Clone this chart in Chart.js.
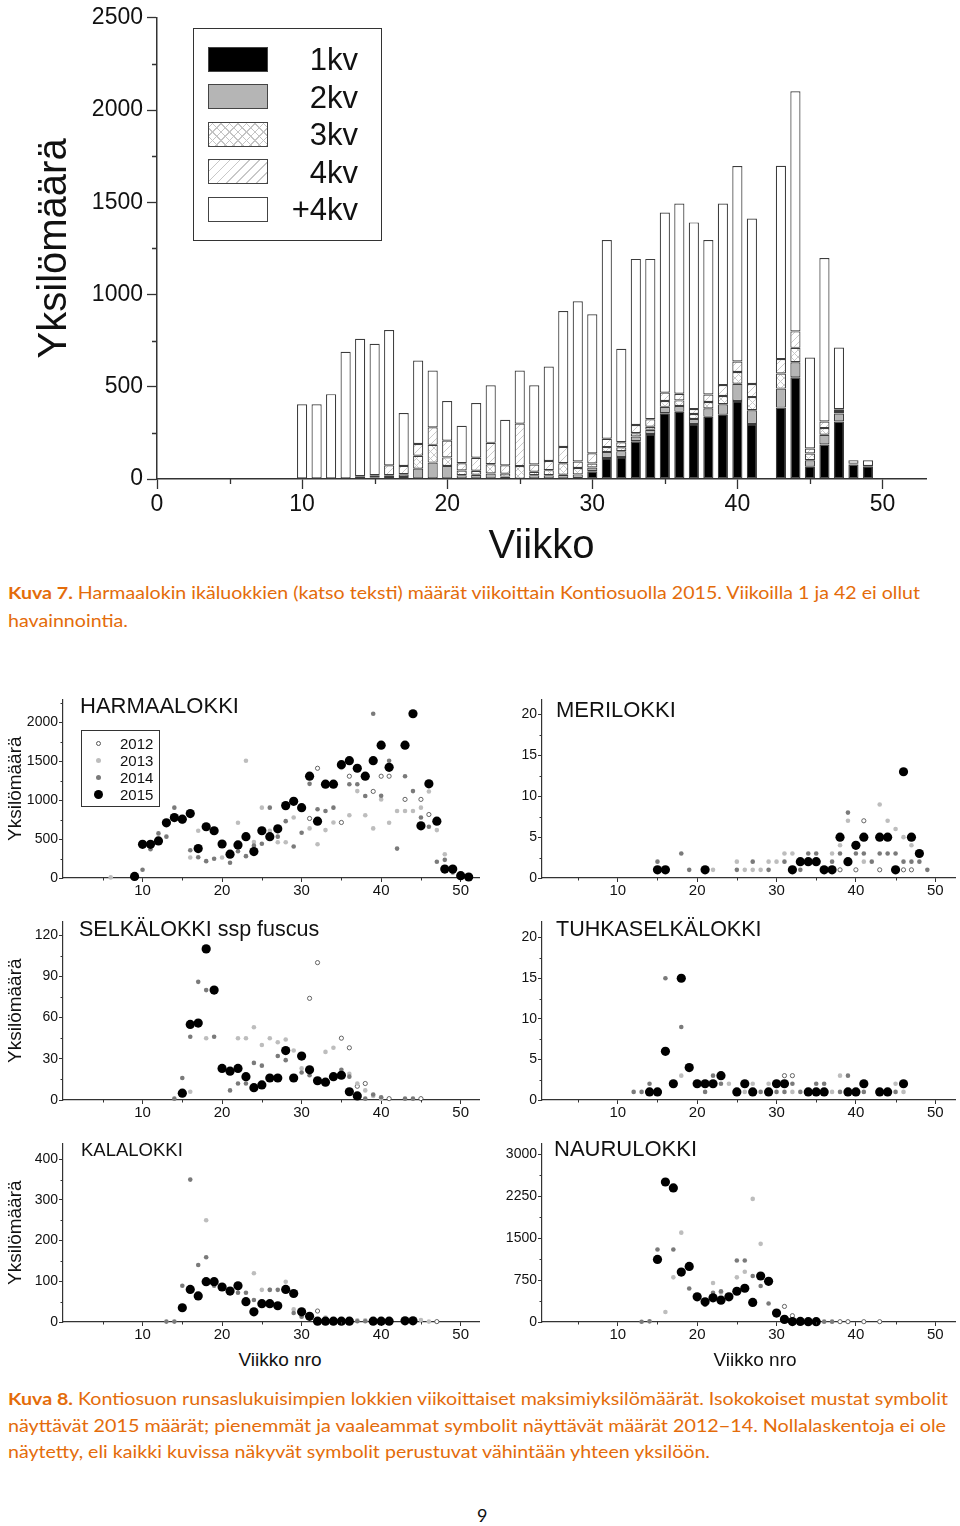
<!DOCTYPE html>
<html lang="fi">
<head>
<meta charset="utf-8">
<title>Kontiosuon lokit 2015</title>
<script src="https://cdn.jsdelivr.net/npm/chart.js@4.4.1/dist/chart.umd.min.js"></script>
<style>
  html, body { margin: 0; background: #fff; }
  #page { position: relative; width: 960px; height: 1526px; overflow: hidden; font-family: "Liberation Sans", Arial, sans-serif; color: #111; }
  canvas { position: absolute; }
  .txt { position: absolute; white-space: nowrap; line-height: 1; }
  .cap { position: absolute; left: 8px; white-space: nowrap; line-height: 1; font-family: Lato, "Open Sans", sans-serif; font-size: 17.5px; color: #e46c0a; transform-origin: 0 0; }
  .box { position: absolute; border: 1.5px solid #333; box-sizing: border-box; }
  .sw { position: absolute; left: 208px; width: 60px; height: 25px; border: 1px solid #444; box-sizing: border-box; }
  .kv { position: absolute; right: 602px; font-size: 31px; line-height: 1; }
  .dot { position: absolute; border-radius: 50%; box-sizing: border-box; }
  .yr { position: absolute; left: 120px; font-size: 15px; line-height: 1; }
</style>
</head>
<body>
<div id="page">
  <canvas id="ageChart" width="960" height="575" style="left:0;top:0"></canvas>

  <!-- legend of the age-class chart -->
  <div class="box" style="left:193px;top:28px;width:189px;height:213px"></div>
  <div class="sw" style="top:47px;background:#000"></div>
  <div class="sw" style="top:84px;background:#b5b5b5"></div>
  <div class="sw" style="top:122px;background-color:#fff;background-image:repeating-linear-gradient(45deg,#c4c4c4 0 1px,transparent 1px 6px),repeating-linear-gradient(-45deg,#c4c4c4 0 1px,transparent 1px 6px)"></div>
  <div class="sw" style="top:159px;background-color:#fff;background-image:repeating-linear-gradient(-45deg,#c8c8c8 0 1px,transparent 1px 7px)"></div>
  <div class="sw" style="top:197px;background:#fff"></div>
  <div class="kv" style="top:44px">1kv</div>
  <div class="kv" style="top:82px">2kv</div>
  <div class="kv" style="top:119px">3kv</div>
  <div class="kv" style="top:157px">4kv</div>
  <div class="kv" style="top:194px">+4kv</div>

  <div class="cap" data-w="912" style="top:584px"><b>Kuva 7.</b> Harmaalokin ikäluokkien (katso teksti) määrät viikoittain Kontiosuolla 2015. Viikoilla 1 ja 42 ei ollut</div>
  <div class="cap" data-w="120" style="top:612px">havainnointia.</div>

  <canvas id="harmaa" width="490" height="210" style="left:0;top:690px"></canvas>
  <canvas id="meri" width="480" height="210" style="left:480px;top:690px"></canvas>
  <canvas id="selka" width="490" height="210" style="left:0;top:912px"></canvas>
  <canvas id="tuhka" width="480" height="210" style="left:480px;top:912px"></canvas>
  <canvas id="kala" width="490" height="210" style="left:0;top:1134px"></canvas>
  <canvas id="nauru" width="480" height="210" style="left:480px;top:1134px"></canvas>

  <div class="txt" style="left:80px;top:695px;font-size:22px">HARMAALOKKI</div>
  <div class="txt" style="left:556px;top:699px;font-size:22px">MERILOKKI</div>
  <div class="txt" style="left:79px;top:919px;font-size:21.5px">SELKÄLOKKI ssp fuscus</div>
  <div class="txt" style="left:556px;top:919px;font-size:21.5px">TUHKASELKÄLOKKI</div>
  <div class="txt" style="left:81px;top:1141px;font-size:18.5px">KALALOKKI</div>
  <div class="txt" style="left:554px;top:1138px;font-size:22px">NAURULOKKI</div>

  <!-- year legend in the Harmaalokki panel -->
  <div class="box" style="left:81px;top:730px;width:79px;height:77px"></div>
  <div class="dot" style="left:96px;top:741px;width:5px;height:5px;border:1px solid #555;background:#fff"></div>
  <div class="dot" style="left:96px;top:758px;width:5px;height:5px;background:#bdbdbd"></div>
  <div class="dot" style="left:96px;top:775px;width:5px;height:5px;background:#7a7a7a"></div>
  <div class="dot" style="left:94px;top:790px;width:9px;height:9px;background:#000"></div>
  <div class="yr" style="top:736px">2012</div>
  <div class="yr" style="top:753px">2013</div>
  <div class="yr" style="top:770px">2014</div>
  <div class="yr" style="top:787px">2015</div>

  <div class="txt" style="left:180px;width:200px;text-align:center;top:1350px;font-size:19px">Viikko nro</div>
  <div class="txt" style="left:655px;width:200px;text-align:center;top:1350px;font-size:19px">Viikko nro</div>

  <div class="cap" data-w="940" style="top:1390px"><b>Kuva 8.</b> Kontiosuon runsaslukuisimpien lokkien viikoittaiset maksimiyksilömäärät. Isokokoiset mustat symbolit</div>
  <div class="cap" data-w="938" style="top:1417px">näyttävät 2015 määrät; pienemmät ja vaaleammat symbolit näyttävät määrät 2012−14. Nollalaskentoja ei ole</div>
  <div class="cap" data-w="702" style="top:1443px">näytetty, eli kaikki kuvissa näkyvät symbolit perustuvat vähintään yhteen yksilöön.</div>

  <div class="txt" style="left:477px;top:1506px;font-family:Lato,sans-serif;font-size:18px">9</div>
</div>

<script>
// --- Kuva 7: harmaalokki per week 2015, by age class ---
const weeks = [9,10,11,12,13,14,15,16,17,18,19,20,21,22,23,24,25,26,27,28,29,30,31,32,33,34,35,36,37,38,39,40,41,42,43,44,45,46,47,48,49,50,51];
const kv1 = [0,0,0,0,0,0,0,3,3,3,0,0,3,3,3,3,2,3,3,3,5,42,114,119,205,244,357,364,298,337,348,423,298,null,387,551,66,187,312,78,66,6,0];
const kv2 = [3,0,0,0,0,5,5,8,8,53,89,71,18,20,27,10,0,18,18,20,20,20,32,32,25,23,34,32,27,46,57,93,75,null,103,82,36,53,43,5,5,0,0];
const kv3 = [0,0,0,0,0,0,5,10,15,70,96,46,25,22,50,16,68,18,27,62,35,22,27,21,18,16,32,30,27,34,45,64,71,null,82,78,36,36,14,0,0,0,0];
const kv4 = [0,0,0,0,0,10,10,53,45,64,95,91,39,70,116,45,230,40,50,89,35,55,45,27,45,41,45,36,27,41,59,57,71,null,78,89,27,36,9,0,0,0,0];
const kvOld = [0,405,405,460,690,745,713,734,287,452,308,215,204,297,312,247,288,429,512,736,868,754,1077,507,900,869,977,1031,1012,837,984,1059,897,null,1048,1302,494,886,335,19,31,0,3];
const ageLabels = ['1kv', '2kv', '3kv', '4kv', '+4kv'];

const weekTicks = [0, 10, 20, 30, 40, 50];
const weekMinor = [5, 15, 25, 35, 45];
const countTicks = [0, 500, 1000, 1500, 2000, 2500];
const countMinor = [250, 750, 1250, 1750, 2250];

// --- Kuva 8: weekly maxima, [week, count] ---
const harmaa2015 = [[9,20],[10,432],[11,432],[12,475],[13,708],[14,775],[15,754],[16,826],[17,377],[18,657],[19,606],[20,436],[21,305],[22,424],[23,530],[24,339],[25,606],[26,530],[27,631],[28,928],[29,983],[30,902],[31,1305],[32,729],[33,1203],[34,1203],[35,1453],[36,1504],[37,1407],[38,1305],[39,1504],[40,1703],[41,1419],[43,1703],[44,2106],[45,669],[46,1207],[47,729],[48,114],[49,114],[50,30],[51,13]];
const harmaa2014 = [[10,106],[11,369],[12,572],[13,530],[14,902],[16,356],[17,267],[18,216],[19,246],[21,195],[22,343],[23,280],[24,415],[25,440],[26,902],[27,530],[28,729],[29,403],[30,580],[31,1207],[32,881],[33,860],[34,902],[36,1203],[37,1203],[38,1051],[39,2106],[40,1055],[41,1504],[42,377],[43,1305],[44,1114],[45,775],[46,657],[47,208],[48,233],[49,72]];
const harmaa2013 = [[6,8],[15,720],[16,263],[17,606],[20,263],[22,708],[23,1504],[24,462],[25,902],[26,606],[27,458],[28,458],[29,775],[31,636],[32,432],[33,614],[34,712],[35,1411],[36,805],[37,1114],[38,805],[39,636],[40,1008],[41,708],[42,860],[43,860],[44,860],[45,902],[46,1110],[47,614],[48,305]];
const harmaa2012 = [[31,763],[32,1407],[35,712],[36,1305],[39,1110],[40,1305],[41,1305],[43,1008],[45,1008],[46,814]];

const meri2015 = [[15,1],[16,1],[21,1],[32,1],[33,2],[34,2],[35,2],[36,1],[37,1],[38,5],[39,2],[40,4],[41,5],[43,5],[44,5],[45,1],[46,13],[47,5],[48,3]];
const meri2014 = [[15,2],[18,3],[19,1],[25,1],[27,2],[29,1],[31,2],[33,1],[34,3],[35,3],[37,2],[38,3],[39,8],[40,3],[41,3],[42,2],[43,3],[44,3],[45,3],[46,2],[47,2],[48,2],[49,1]];
const meri2013 = [[22,1],[25,2],[26,1],[27,1],[28,1],[29,2],[30,2],[31,3],[32,3],[37,3],[38,4],[39,7],[41,2],[43,9],[44,7],[45,6],[46,5],[47,4]];
const meri2012 = [[38,1],[40,1],[41,7],[43,1],[46,1],[47,1]];

const selka2015 = [[15,5],[16,55],[17,56],[18,110],[19,80],[20,23],[21,21],[22,23],[23,17],[24,9],[25,11],[26,16],[27,16],[28,36],[29,16],[30,32],[31,22],[32,14],[33,13],[34,17],[35,18],[36,6],[37,3]];
const selka2014 = [[14,1],[15,16],[16,46],[17,86],[18,80],[19,46],[21,7],[22,12],[23,12],[24,27],[25,25],[27,32],[28,29],[30,20],[31,18],[35,22],[36,17],[38,1],[39,4],[40,2],[43,1],[44,1]];
const selka2013 = [[16,6],[18,45],[22,45],[23,45],[24,53],[25,40],[26,45],[27,42],[28,44],[29,36],[30,23],[33,35],[34,38],[36,19],[37,12],[38,7],[39,3],[40,1]];
const selka2012 = [[31,74],[32,100],[35,45],[36,38],[37,10],[38,12],[41,1],[45,1]];

const tuhka2015 = [[14,1],[15,1],[16,6],[17,2],[18,15],[19,4],[20,2],[21,2],[22,2],[23,3],[25,1],[26,2],[27,1],[29,1],[30,2],[31,2],[34,1],[35,1],[36,1],[39,1],[40,1],[41,2],[43,1],[44,1],[46,2]];
const tuhka2014 = [[12,1],[13,1],[14,2],[16,15],[18,9],[21,1],[22,3],[23,2],[28,1],[30,1],[31,1],[32,2],[33,1],[35,2],[36,2],[38,1],[39,3],[41,1],[45,1]];
const tuhka2013 = [[18,3],[24,2],[26,1],[27,2],[29,2],[32,1],[37,1],[38,3],[45,2],[46,1]];
const tuhka2012 = [[31,3],[32,3]];

const kala2015 = [[15,35],[16,80],[17,64],[18,99],[19,99],[20,86],[21,76],[22,89],[23,50],[24,25],[25,45],[26,45],[27,40],[28,80],[29,70],[30,25],[31,14],[32,2],[33,2],[34,2],[35,2],[36,2],[39,2],[40,2],[41,2],[43,3],[44,3]];
const kala2014 = [[13,1],[14,1],[15,89],[16,350],[17,140],[18,159],[19,89],[22,72],[23,72],[24,54],[26,79],[27,79],[29,22],[30,13],[32,4],[33,4],[37,2],[38,2]];
const kala2013 = [[18,250],[19,92],[24,120],[25,79],[26,79],[28,99],[29,31],[30,15],[33,11],[34,4],[37,4],[38,4],[45,5],[46,1]];
const kala2012 = [[32,27],[47,1]];

const nauru2015 = [[15,1121],[16,2508],[17,2402],[18,895],[19,996],[20,451],[21,362],[22,433],[23,391],[24,451],[25,551],[26,605],[27,350],[28,824],[29,729],[30,160],[31,47],[32,8],[33,10],[34,6],[35,6]];
const nauru2014 = [[13,5],[14,12],[15,1299],[17,1299],[19,599],[21,308],[22,522],[23,551],[25,1103],[26,1103],[27,824],[28,646],[29,332],[36,6],[37,6]];
const nauru2013 = [[16,178],[17,800],[18,1601],[21,344],[22,700],[23,528],[25,800],[26,901],[27,2206],[28,1400]];
const nauru2012 = [[31,279],[32,113],[38,6],[39,6],[41,6],[43,6]];

const panelWeekTicks = [10, 20, 30, 40, 50];
const panelWeekMinor = [5, 15, 25, 35, 45];

Chart.defaults.font.family = '"Liberation Sans", Arial, sans-serif';
Chart.defaults.color = '#111';

const AXIS = '#333';

// short in-between tick marks, Chart.js only draws the major ones
const minorTicks = {
  id: 'minorTicks',
  afterDraw(chart, args, opts) {
    if (!opts || !opts.len) return;
    const { ctx, scales: { x, y } } = chart;
    ctx.save();
    ctx.strokeStyle = AXIS;
    ctx.lineWidth = opts.width || 1;
    ctx.beginPath();
    (opts.x || []).forEach(v => {
      const px = Math.round(x.getPixelForValue(v)) + 0.5;
      ctx.moveTo(px, y.bottom);
      ctx.lineTo(px, y.bottom + opts.len);
    });
    (opts.y || []).forEach(v => {
      const py = Math.round(y.getPixelForValue(v)) + 0.5;
      ctx.moveTo(x.left, py);
      ctx.lineTo(x.left - opts.len, py);
    });
    ctx.stroke();
    ctx.restore();
  }
};

const setTicks = list => scale => { scale.ticks = list.map(v => ({ value: v })); };

function hatch(cross) {
  const c = document.createElement('canvas');
  c.width = c.height = 7;
  const g = c.getContext('2d');
  g.fillStyle = '#fff';
  g.fillRect(0, 0, 7, 7);
  g.strokeStyle = '#c4c4c4';
  g.lineWidth = 0.9;
  g.beginPath();
  g.moveTo(0, 7); g.lineTo(7, 0);
  if (cross) { g.moveTo(0, 0); g.lineTo(7, 7); }
  g.stroke();
  return g.createPattern(c, 'repeat');
}

// ---- Kuva 7 ----
const ageSeries = [kv1, kv2, kv3, kv4, kvOld];
const ageFills = ['#000', '#b5b5b5', hatch(true), hatch(false), '#fff'];

new Chart(document.getElementById('ageChart'), {
  type: 'bar',
  data: {
    datasets: ageSeries.map((vals, i) => ({
      label: ageLabels[i],
      data: weeks.map((w, j) => ({ x: w, y: vals[j] || null })),
      backgroundColor: ageFills[i],
      borderColor: '#3c3c3c',
      borderWidth: 1.2,
      borderSkipped: false,
      barPercentage: 0.7,
      categoryPercentage: 1
    }))
  },
  options: {
    responsive: false,
    animation: false,
    layout: { padding: { top: 10, right: 34, left: 0, bottom: 0 } },
    plugins: {
      legend: { display: false },
      tooltip: { enabled: false },
      minorTicks: { x: weekMinor, y: countMinor, len: 5, width: 1.3 }
    },
    scales: {
      x: {
        type: 'linear', min: 0, max: 53, stacked: true, offset: false,
        afterBuildTicks: setTicks(weekTicks),
        afterFit: s => { s.height = 575 - 479; },
        grid: { offset: false, drawOnChartArea: false, tickLength: 10, tickColor: AXIS, tickWidth: 1.3 },
        border: { color: AXIS, width: 1.5 },
        ticks: { autoSkip: false, maxRotation: 0, padding: 2, font: { size: 23 }, callback: v => String(v) },
        title: { display: true, text: 'Viikko', font: { size: 40 }, padding: { top: 0, bottom: 4 } }
      },
      y: {
        min: 0, max: 2500, stacked: true,
        afterBuildTicks: setTicks(countTicks),
        afterFit: s => { s.width = 157; },
        grid: { drawOnChartArea: false, tickLength: 10, tickColor: AXIS, tickWidth: 1.3 },
        border: { color: AXIS, width: 1.5 },
        ticks: { padding: 4, font: { size: 23 }, callback: v => String(v) },
        title: { display: true, text: 'Yksilömäärä', font: { size: 40 }, padding: { top: 31, bottom: 0 } }
      }
    }
  },
  plugins: [minorTicks]
});

// ---- Kuva 8 ----
const yearStyles = [
  { label: '2015', pointRadius: 4.6, pointBackgroundColor: '#000', pointBorderColor: '#000', pointBorderWidth: 0 },
  { label: '2014', pointRadius: 2.3, pointBackgroundColor: '#7a7a7a', pointBorderColor: '#7a7a7a', pointBorderWidth: 0 },
  { label: '2013', pointRadius: 2.3, pointBackgroundColor: '#bdbdbd', pointBorderColor: '#bdbdbd', pointBorderWidth: 0 },
  { label: '2012', pointRadius: 2.1, pointBackgroundColor: '#fff', pointBorderColor: '#555', pointBorderWidth: 0.9 }
];

function panel(id, series, yMax, yTicks, yMinor, side) {
  const left = side === 'left';
  return new Chart(document.getElementById(id), {
    type: 'scatter',
    data: {
      datasets: series.map((pts, i) => ({
        ...yearStyles[i],
        data: pts.map(([x, y]) => ({ x, y })),
        clip: false
      }))
    },
    options: {
      responsive: false,
      animation: false,
      layout: { padding: { top: 8, right: left ? 11 : 4.5, left: 0, bottom: 0 } },
      plugins: {
        legend: { display: false },
        tooltip: { enabled: false },
        minorTicks: { x: panelWeekMinor, y: yMinor, len: 2.5, width: 1 }
      },
      scales: {
        x: {
          min: left ? 0 : 0.45, max: left ? 52.3 : 52.5,
          afterBuildTicks: setTicks(panelWeekTicks),
          afterFit: s => { s.height = 22; },
          grid: { drawOnChartArea: false, tickLength: 4, tickColor: AXIS, tickWidth: 1 },
          border: { color: AXIS, width: 1.2 },
          ticks: { autoSkip: false, maxRotation: 0, padding: 0, font: { size: 15 }, callback: v => String(v) }
        },
        y: {
          min: 0, max: yMax,
          afterBuildTicks: setTicks(yTicks),
          afterFit: s => { s.width = left ? 63 : 62; },
          grid: { drawOnChartArea: false, tickLength: 4, tickColor: AXIS, tickWidth: 1 },
          border: { color: AXIS, width: 1.2 },
          ticks: { padding: 1, font: { size: 14 }, callback: v => String(v) },
          title: { display: left, text: 'Yksilömäärä', font: { size: 19 }, padding: { top: 4, bottom: 0 } }
        }
      }
    },
    plugins: [minorTicks]
  });
}

panel('harmaa', [harmaa2015, harmaa2014, harmaa2013, harmaa2012], 2290, [0, 500, 1000, 1500, 2000], [250, 750, 1250, 1750, 2250], 'left');
panel('meri', [meri2015, meri2014, meri2013, meri2012], 21.85, [0, 5, 10, 15, 20], [2.5, 7.5, 12.5, 17.5], 'right');
panel('selka', [selka2015, selka2014, selka2013, selka2012], 130, [0, 30, 60, 90, 120], [15, 45, 75, 105], 'left');
panel('tuhka', [tuhka2015, tuhka2014, tuhka2013, tuhka2012], 22, [0, 5, 10, 15, 20], [2.5, 7.5, 12.5, 17.5], 'right');
panel('kala', [kala2015, kala2014, kala2013, kala2012], 439, [0, 100, 200, 300, 400], [50, 150, 250, 350], 'left');
panel('nauru', [nauru2015, nauru2014, nauru2013, nauru2012], 3200, [0, 750, 1500, 2250, 3000], [375, 1125, 1875, 2625], 'right');

// squeeze caption lines to the reference line widths
function fitCaptions() {
  document.querySelectorAll('[data-w]').forEach(el => {
    el.style.transform = 'none';
    const w = el.getBoundingClientRect().width;
    if (w > 0) el.style.transform = `scaleX(${el.dataset.w / w})`;
  });
}
fitCaptions();
if (document.fonts) document.fonts.ready.then(fitCaptions);
</script>
</body>
</html>
